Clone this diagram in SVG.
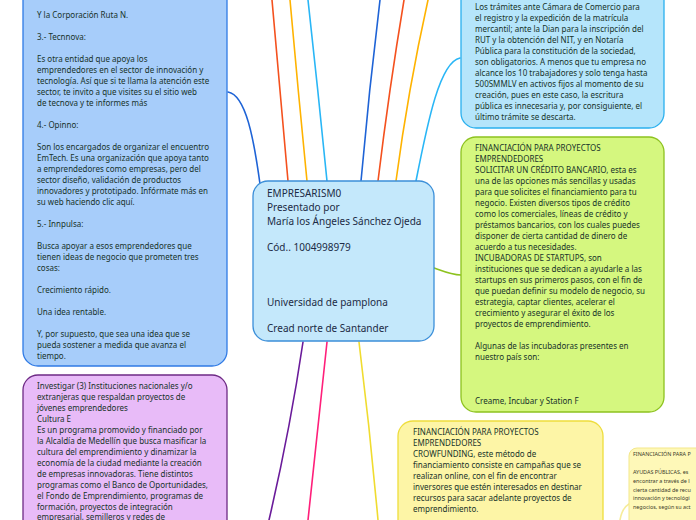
<svg xmlns="http://www.w3.org/2000/svg" width="696" height="520" viewBox="0 0 696 520">
<style>
.t{font-family:"Noto Sans","Open Sans","DejaVu Sans",sans-serif;font-size:8px;fill:#17332a}
.c{font-family:"Noto Sans","Open Sans","DejaVu Sans",sans-serif;font-size:10px;fill:#1c2b45}
.s{font-family:"Noto Sans","Open Sans","DejaVu Sans",sans-serif;font-size:5.4px;fill:#3a3a2a}
.ln{fill:none;stroke-width:1.6;stroke-linecap:round}
</style>
<rect width="696" height="520" fill="#ffffff"/>
<g id="connectors">
<path class="ln" stroke="#1e63d6" d="M228,92 C246,95 254,140 260,184"/>
<path class="ln" stroke="#f4511e" d="M272,0 Q280,90 288,181"/>
<path class="ln" stroke="#ffb300" d="M290,0 Q298,90 307,181"/>
<path class="ln" stroke="#29b6f6" d="M308,0 Q318,90 327,181"/>
<path class="ln" stroke="#1e63d6" d="M380,0 Q369,90 361,181"/>
<path class="ln" stroke="#f4511e" d="M404,0 Q389,90 378,181"/>
<path class="ln" stroke="#ffb300" d="M428,0 Q408,90 396,181"/>
<path class="ln" stroke="#29b6f6" d="M416,181 C428,120 440,62 460,58"/>
<path class="ln" stroke="#8dc21f" d="M434,268 C445,272 452,275 461,275"/>
<path class="ln" stroke="#6a1b9a" d="M303,342 Q290,430 269,520"/>
<path class="ln" stroke="#ff1f7a" d="M327,342 Q318,430 308,520"/>
<path class="ln" stroke="#f0dc30" d="M359,342 Q370,430 378,520"/>
<path class="ln" stroke="#f6ec9a" d="M620,520 Q622,508 629,504"/>
</g>
<g id="node-left">
<rect x="23" y="-20" width="204" height="386" rx="15" fill="#a7cdfa" stroke="#2f7ae5" stroke-width="1.3"/>
<text class="t">
<tspan x="37" y="18">Y la Corporación Ruta N.</tspan>
<tspan x="37" y="40">3.- Tecnnova:</tspan>
<tspan x="37" y="62">Es otra entidad que apoya los</tspan>
<tspan x="37" y="73">emprendedores en el sector de innovación y</tspan>
<tspan x="37" y="84">tecnología. Así que si te llama la atención este</tspan>
<tspan x="37" y="95">sector, te invito a que visites su el sitio web</tspan>
<tspan x="37" y="106">de tecnova y te informes más</tspan>
<tspan x="37" y="128">4.- Opinno:</tspan>
<tspan x="37" y="150">Son los encargados de organizar el encuentro</tspan>
<tspan x="37" y="161">EmTech. Es una organización que apoya tanto</tspan>
<tspan x="37" y="172">a emprendedores como empresas, pero del</tspan>
<tspan x="37" y="183">sector diseño, validación de productos</tspan>
<tspan x="37" y="194">innovadores y prototipado. Infórmate más en</tspan>
<tspan x="37" y="205">su web haciendo clic aquí.</tspan>
<tspan x="37" y="227">5.- Innpulsa:</tspan>
<tspan x="37" y="249">Busca apoyar a esos emprendedores que</tspan>
<tspan x="37" y="260">tienen ideas de negocio que prometen tres</tspan>
<tspan x="37" y="271">cosas:</tspan>
<tspan x="37" y="293">Crecimiento rápido.</tspan>
<tspan x="37" y="315">Una idea rentable.</tspan>
<tspan x="37" y="337">Y, por supuesto, que sea una idea que se</tspan>
<tspan x="37" y="348">pueda sostener a medida que avanza el</tspan>
<tspan x="37" y="359">tiempo.</tspan>
</text>
</g>
<g id="node-center">
<rect x="253" y="181" width="181" height="160" rx="15" fill="#c4e8fb" stroke="#3b8fd9" stroke-width="1.3"/>
<text class="c">
<tspan x="267" y="196.5">EMPRESARISM0</tspan>
<tspan x="267" y="210.5">Presentado por</tspan>
<tspan x="267" y="224.5">María los Ángeles Sánchez Ojeda</tspan>
<tspan x="267" y="250.5">Cód.. 1004998979</tspan>
<tspan x="267" y="305.5">Universidad de pamplona</tspan>
<tspan x="267" y="331.5">Cread norte de Santander</tspan>
</text>
</g>
<g id="node-tramites">
<rect x="461" y="-20" width="203" height="148" rx="15" fill="#b5e5fb" stroke="#2ab0ee" stroke-width="1.3"/>
<text class="t">
<tspan x="475" y="10">Los trámites ante Cámara de Comercio para</tspan>
<tspan x="475" y="21">el registro y la expedición de la matrícula</tspan>
<tspan x="475" y="32">mercantil; ante la Dian para la inscripción del</tspan>
<tspan x="475" y="43">RUT y la obtención del NIT, y en Notaría</tspan>
<tspan x="475" y="54">Pública para la constitución de la sociedad,</tspan>
<tspan x="475" y="65">son obligatorios. A menos que tu empresa no</tspan>
<tspan x="475" y="76">alcance los 10 trabajadores y solo tenga hasta</tspan>
<tspan x="475" y="87">500SMMLV en activos fijos al momento de su</tspan>
<tspan x="475" y="98">creación, pues en este caso, la escritura</tspan>
<tspan x="475" y="109">pública es innecesaria y, por consiguiente, el</tspan>
<tspan x="475" y="120">último trámite se descarta.</tspan>
</text>
</g>
<g id="node-credito">
<rect x="461" y="137" width="203" height="275" rx="15" fill="#d5f77f" stroke="#8dc21f" stroke-width="1.3"/>
<text class="t">
<tspan x="475" y="151">FINANCIACIÓN PARA PROYECTOS</tspan>
<tspan x="475" y="162">EMPRENDEDORES</tspan>
<tspan x="475" y="173">SOLICITAR UN CRÉDITO BANCARIO, esta es</tspan>
<tspan x="475" y="184">una de las opciones más sencillas y usadas</tspan>
<tspan x="475" y="195">para que solicites el financiamiento para tu</tspan>
<tspan x="475" y="206">negocio. Existen diversos tipos de crédito</tspan>
<tspan x="475" y="217">como los comerciales, líneas de crédito y</tspan>
<tspan x="475" y="228">préstamos bancarios, con los cuales puedes</tspan>
<tspan x="475" y="239">disponer de cierta cantidad de dinero de</tspan>
<tspan x="475" y="250">acuerdo a tus necesidades.</tspan>
<tspan x="475" y="261">INCUBADORAS DE STARTUPS, son</tspan>
<tspan x="475" y="272">instituciones que se dedican a ayudarle a las</tspan>
<tspan x="475" y="283">startups en sus primeros pasos, con el fin de</tspan>
<tspan x="475" y="294">que puedan definir su modelo de negocio, su</tspan>
<tspan x="475" y="305">estrategia, captar clientes, acelerar el</tspan>
<tspan x="475" y="316">crecimiento y asegurar el éxito de los</tspan>
<tspan x="475" y="327">proyectos de emprendimiento.</tspan>
<tspan x="475" y="349">Algunas de las incubadoras presentes en</tspan>
<tspan x="475" y="360">nuestro país son:</tspan>
<tspan x="475" y="404">Creame, Incubar y Station F</tspan>
</text>
</g>
<g id="node-crowdfunding">
<rect x="398" y="421" width="205" height="140" rx="15" fill="#fdf5a6" stroke="#eedd3c" stroke-width="1.3"/>
<text class="t">
<tspan x="413" y="435">FINANCIACIÓN PARA PROYECTOS</tspan>
<tspan x="413" y="446">EMPRENDEDORES</tspan>
<tspan x="413" y="457">CROWFUNDING, este método de</tspan>
<tspan x="413" y="468">financiamiento consiste en campañas que se</tspan>
<tspan x="413" y="479">realizan online, con el fin de encontrar</tspan>
<tspan x="413" y="490">inversores que estén interesados en destinar</tspan>
<tspan x="413" y="501">recursos para sacar adelante proyectos de</tspan>
<tspan x="413" y="512">emprendimiento.</tspan>
</text>
</g>
<g id="node-instituciones">
<rect x="23" y="375" width="204" height="200" rx="15" fill="#e8bbf8" stroke="#6e2a85" stroke-width="1.3"/>
<text class="t">
<tspan x="37" y="389">Investigar (3) Instituciones nacionales y/o</tspan>
<tspan x="37" y="400">extranjeras que respaldan proyectos de</tspan>
<tspan x="37" y="411">jóvenes emprendedores</tspan>
<tspan x="37" y="422">Cultura E</tspan>
<tspan x="37" y="433">Es un programa promovido y financiado por</tspan>
<tspan x="37" y="444">la Alcaldía de Medellín que busca masificar la</tspan>
<tspan x="37" y="455">cultura del emprendimiento y dinamizar la</tspan>
<tspan x="37" y="466">economía de la ciudad mediante la creación</tspan>
<tspan x="37" y="477">de empresas innovadoras.  Tiene distintos</tspan>
<tspan x="37" y="488">programas como el Banco de Oportunidades,</tspan>
<tspan x="37" y="499">el Fondo de Emprendimiento, programas de</tspan>
<tspan x="37" y="510">formación,  proyectos de integración</tspan>
<tspan x="37" y="520">empresarial, semilleros y redes de</tspan>
</text>
</g>
<g id="node-ayudas">
<rect x="629" y="448" width="100" height="80" rx="8" fill="#fef8b8" stroke="#f3e78a" stroke-width="1"/>
<text class="s">
<tspan x="633" y="456">FINANCIACIÓN PARA P</tspan>
<tspan x="633" y="474">AYUDAS PÚBLICAS, es</tspan>
<tspan x="633" y="483">encontrar a través de l</tspan>
<tspan x="633" y="492">cierta cantidad de recu</tspan>
<tspan x="633" y="500">innovación y tecnológi</tspan>
<tspan x="633" y="509">negocios, según su act</tspan>
</text>
</g>
</svg>
